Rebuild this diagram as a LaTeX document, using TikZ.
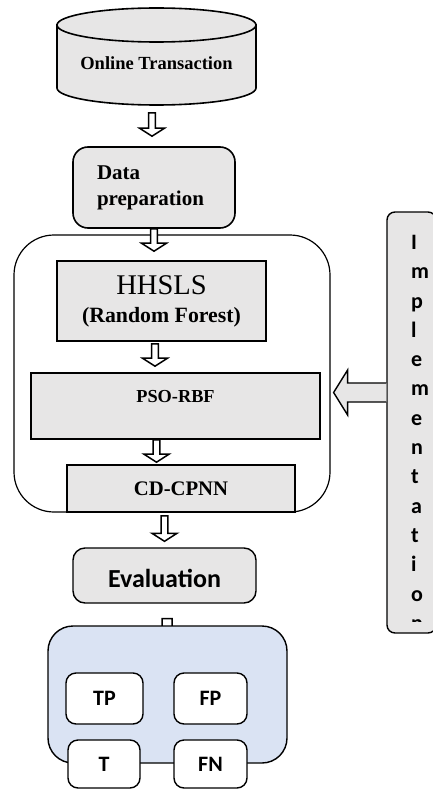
\documentclass[tikz,border=0pt]{standalone}
\usepackage{fontspec}
\setmainfont{Liberation Serif}
\newfontfamily\calibri{Carlito}
\usetikzlibrary{calc}
\definecolor{boxgray}{HTML}{E7E6E6}
\definecolor{boxblue}{HTML}{DAE3F3}

\begin{document}
\begin{tikzpicture}[x=1pt,y=-1pt,
	graybox/.style={draw, line width=1.6pt, fill=boxgray, inner sep=0pt, align=center},
	whitebox/.style={draw, line width=1.4pt, fill=white, rounded corners=10pt, inner sep=0pt,
		font=\calibri\bfseries\fontsize{22}{26}\selectfont},
	hollow/.style={fill=white, line width=1.5pt, to path={let \p1=(\tikztostart), \p2=(\tikztotarget) in
		(\x1-#1,\y1) -- (\x1-#1,\y2+8pt) -- (\x1-12.5pt,\y2+8pt) -- (\x1,\y2)
		-- (\x1+12.5pt,\y2+8pt) -- (\x1+#1,\y2+8pt) -- (\x1+#1,\y1) -- cycle}},
	hollow/.default=3.3pt,
	hollowleft/.style={fill=boxgray, line width=1.4pt, to path={let \p1=(\tikztostart), \p2=(\tikztotarget) in
		(\x1,\y1+9.5pt) -- (\x2+17pt,\y1+9.5pt) -- (\x2+17pt,\y1+22.5pt) -- (\x2+3pt,\y1)
		-- (\x2+17pt,\y1-22.5pt) -- (\x2+17pt,\y1-9.5pt) -- (\x1,\y1-9.5pt)}}]

	\useasboundingbox (0,0) rectangle (432,789);

	% database
	\draw[line width=1.6pt, fill=boxgray] (57,25) -- (57,88) arc[start angle=180, end angle=0, x radius=99.5, y radius=17] -- (256,25) -- cycle;
	\draw[line width=1.6pt, fill=boxgray] (156.5,25) ellipse[x radius=99.5, y radius=17];
	\node[font=\bfseries\fontsize{18.5}{22}\selectfont] (db) at (156.5,63) {Online Transaction};
	\coordinate (dbbase) at (152,113);

	\node[graybox, rounded corners=15pt, minimum width=162pt, minimum height=81pt, align=left,
		text width=114pt, inner xsep=24pt, font=\bfseries\fontsize{21}{26}\selectfont] (prep) at (154,187.5) {Data\\preparation};

	% model block
	\node[draw, line width=1.2pt, rounded corners=40pt, minimum width=316pt, minimum height=277pt] (engine) at (172,373.5) {};
	\node[graybox, minimum width=209pt, minimum height=80pt, font=\fontsize{21.8}{28}\selectfont] (hhsls) at (161.5,301)
		{{\fontsize{28.5}{28}\selectfont HHSLS}\\{\bfseries (Random Forest)}};
	\node[graybox, minimum width=289pt, minimum height=66pt, text height=14pt, text depth=22pt,
		font=\bfseries\fontsize{18.3}{22}\selectfont] (pso) at (175.5,406) {PSO-RBF};
	\node[graybox, minimum width=228pt, minimum height=47pt, font=\bfseries\fontsize{20.7}{24}\selectfont] (cpnn) at (181,488.5) {CD-CPNN};

	\node[graybox, line width=1.4pt, rounded corners=12pt, minimum width=183pt, minimum height=55pt,
		text height=26pt, text depth=2pt, font=\calibri\bfseries\fontsize{26}{30}\selectfont] (eval) at (164.5,575.5) {Evaluation};

	% implementation
	\node[graybox, line width=1.4pt, rounded corners=8pt, minimum width=49pt, minimum height=421pt] (impl) at (411.5,422.5) {};
	\begin{scope}
		\clip (388,213) rectangle (434,621);
		\node[anchor=north west, align=left, inner sep=0pt, font=\calibri\bfseries\fontsize{22}{29.3}\selectfont] (impltext) at (411,235)
			{I\\m\\p\\l\\e\\m\\e\\n\\t\\a\\t\\i\\o\\n};
	\end{scope}

	% arrows
	\draw[hollow] (dbbase) to ([yshift=10pt]prep.north);
	\draw[hollow] (prep.south) to ([yshift=9pt]hhsls.north);
	\draw[hollow] ([xshift=-6.5pt,yshift=-2pt]hhsls.south) to ([yshift=6pt]pso.north);
	\draw[hollow] ([xshift=-19pt]pso.south) to ([yshift=2pt]cpnn.north);
	\draw[hollow] ([xshift=-16.5pt,yshift=-3pt]cpnn.south) to ([yshift=6pt]eval.north);
	\draw[hollow=5pt] ([xshift=2.5pt,yshift=-15pt]eval.south) to ([yshift=-45pt]eval.south);
	\draw[hollowleft] ([yshift=30pt]impl.west) to (engine.east);

	% metrics
	\node[draw, line width=1.4pt, fill=boxblue, rounded corners=25pt, minimum width=239pt, minimum height=137pt] (metrics) at (167.5,694.5) {};
	\node[whitebox, minimum width=77pt, minimum height=51pt] (tp) at (104.5,698.5) {TP};
	\node[whitebox, minimum width=73pt, minimum height=51pt] (fp) at (210.5,698.5) {FP};
	\node[whitebox, minimum width=72pt, minimum height=48pt] (tn) at (104,764) {T};
	\node[whitebox, minimum width=73pt, minimum height=48pt] (fn) at (210.5,764) {FN};

\end{tikzpicture}
\end{document}
